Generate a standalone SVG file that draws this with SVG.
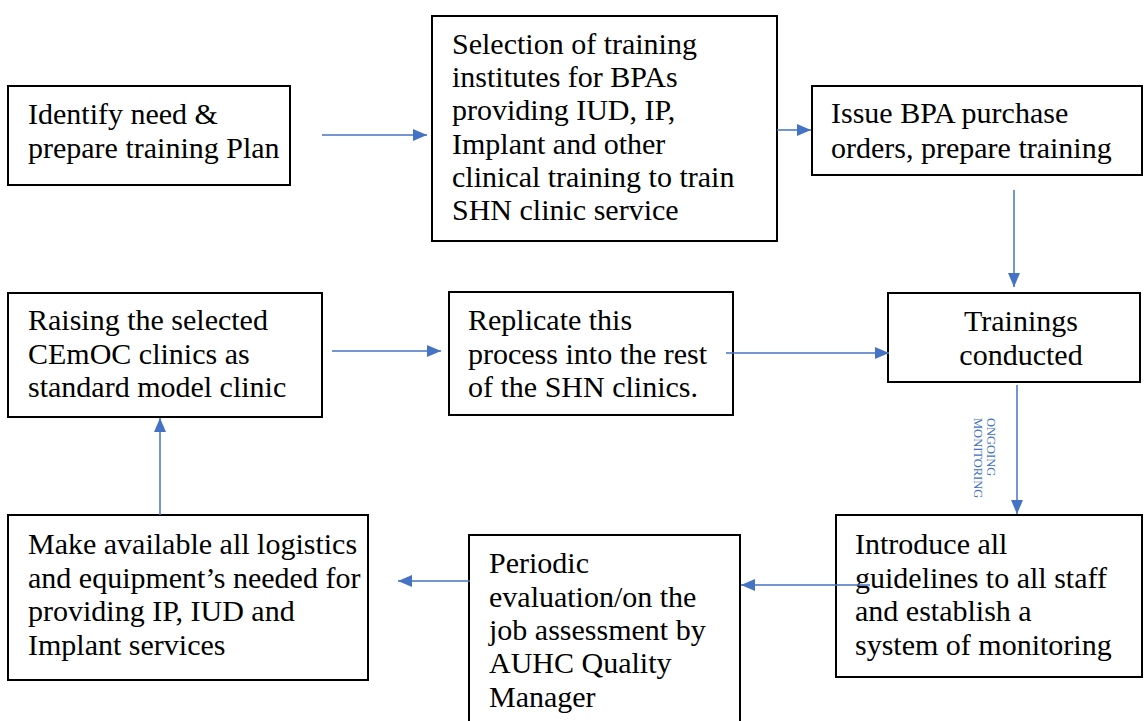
<svg xmlns="http://www.w3.org/2000/svg" width="1144" height="721" viewBox="0 0 1144 721">
<defs>
<style>
.box{fill:#fff;stroke:#000;stroke-width:2}
.t{font-family:"Liberation Serif","Times New Roman",serif;font-size:30px;fill:#000}
.c{stroke:#4472C4;stroke-width:1.5;fill:none}
.lab{font-family:"Liberation Serif","Times New Roman",serif;font-size:12.5px;fill:#4472C4}
</style>
<marker id="a2" viewBox="0 0 14 12" refX="14" refY="6" markerWidth="14" markerHeight="12" markerUnits="userSpaceOnUse" orient="auto">
<path d="M0,0 L14,6 L0,12 Z" fill="#4472C4"/>
</marker>
</defs>
<rect width="1144" height="721" fill="#fff"/>
<g id="n1">
<rect class="box" x="8" y="86" width="282" height="99"/>
<text class="t" x="28" y="124">Identify need &amp;</text>
<text class="t" x="28" y="158">prepare training Plan</text>
</g>
<g id="n2">
<rect class="box" x="432" y="16" width="345" height="225"/>
<text class="t" x="452" y="54">Selection of training</text>
<text class="t" x="452" y="87">institutes for BPAs</text>
<text class="t" x="452" y="120">providing IUD, IP,</text>
<text class="t" x="452" y="154">Implant and other</text>
<text class="t" x="452" y="187">clinical training to train</text>
<text class="t" x="452" y="220">SHN clinic service</text>
</g>
<g id="n3">
<rect class="box" x="812" y="86" width="330" height="89"/>
<text class="t" x="831" y="123">Issue BPA purchase</text>
<text class="t" x="831" y="158">orders, prepare training</text>
</g>
<g id="n4">
<rect class="box" x="888" y="293" width="252" height="89"/>
<text class="t" x="1021" y="331" text-anchor="middle">Trainings</text>
<text class="t" x="1021" y="365" text-anchor="middle">conducted</text>
</g>
<g id="n5">
<rect class="box" x="449" y="292" width="284" height="123"/>
<text class="t" x="468" y="330">Replicate this</text>
<text class="t" x="468" y="364">process into the rest</text>
<text class="t" x="468" y="397">of the SHN clinics.</text>
</g>
<g id="n6">
<rect class="box" x="8" y="293" width="314" height="124"/>
<text class="t" x="28" y="330">Raising the selected</text>
<text class="t" x="28" y="364">CEmOC clinics as</text>
<text class="t" x="28" y="397">standard model clinic</text>
</g>
<g id="n7">
<rect class="box" x="8" y="515" width="360" height="165"/>
<text class="t" x="28" y="554">Make available all logistics</text>
<text class="t" x="28" y="588">and equipment’s needed for</text>
<text class="t" x="28" y="621">providing IP, IUD and</text>
<text class="t" x="28" y="655">Implant services</text>
</g>
<g id="n8">
<rect class="box" x="469" y="535" width="271" height="190"/>
<text class="t" x="489" y="573">Periodic</text>
<text class="t" x="489" y="607">evaluation/on the</text>
<text class="t" x="489" y="640">job assessment by</text>
<text class="t" x="489" y="673">AUHC Quality</text>
<text class="t" x="489" y="707">Manager</text>
</g>
<g id="n9">
<rect class="box" x="836" y="515" width="306" height="162"/>
<text class="t" x="855" y="554">Introduce all</text>
<text class="t" x="855" y="588">guidelines to all staff</text>
<text class="t" x="855" y="621">and establish a</text>
<text class="t" x="855" y="655">system of monitoring</text>
</g>
<g id="connectors">
<line class="c" x1="322" y1="135" x2="427" y2="135" marker-end="url(#a2)"/>
<line class="c" x1="777" y1="130" x2="811" y2="130" marker-end="url(#a2)"/>
<line class="c" x1="1014" y1="190" x2="1014" y2="287" marker-end="url(#a2)"/>
<line class="c" x1="1017" y1="385" x2="1017" y2="514" marker-end="url(#a2)"/>
<line class="c" x1="726" y1="353" x2="889" y2="353" marker-end="url(#a2)"/>
<line class="c" x1="332" y1="351" x2="441" y2="351" marker-end="url(#a2)"/>
<line class="c" x1="870" y1="585" x2="741" y2="585" marker-end="url(#a2)"/>
<line class="c" x1="470" y1="581" x2="398" y2="581" marker-end="url(#a2)"/>
<line class="c" x1="160" y1="515" x2="160" y2="418" marker-end="url(#a2)"/>
<text class="lab" transform="translate(987,418) rotate(90)">ONGOING</text>
<text class="lab" transform="translate(974,418) rotate(90)">MONITORING</text>
</g>
</svg>
